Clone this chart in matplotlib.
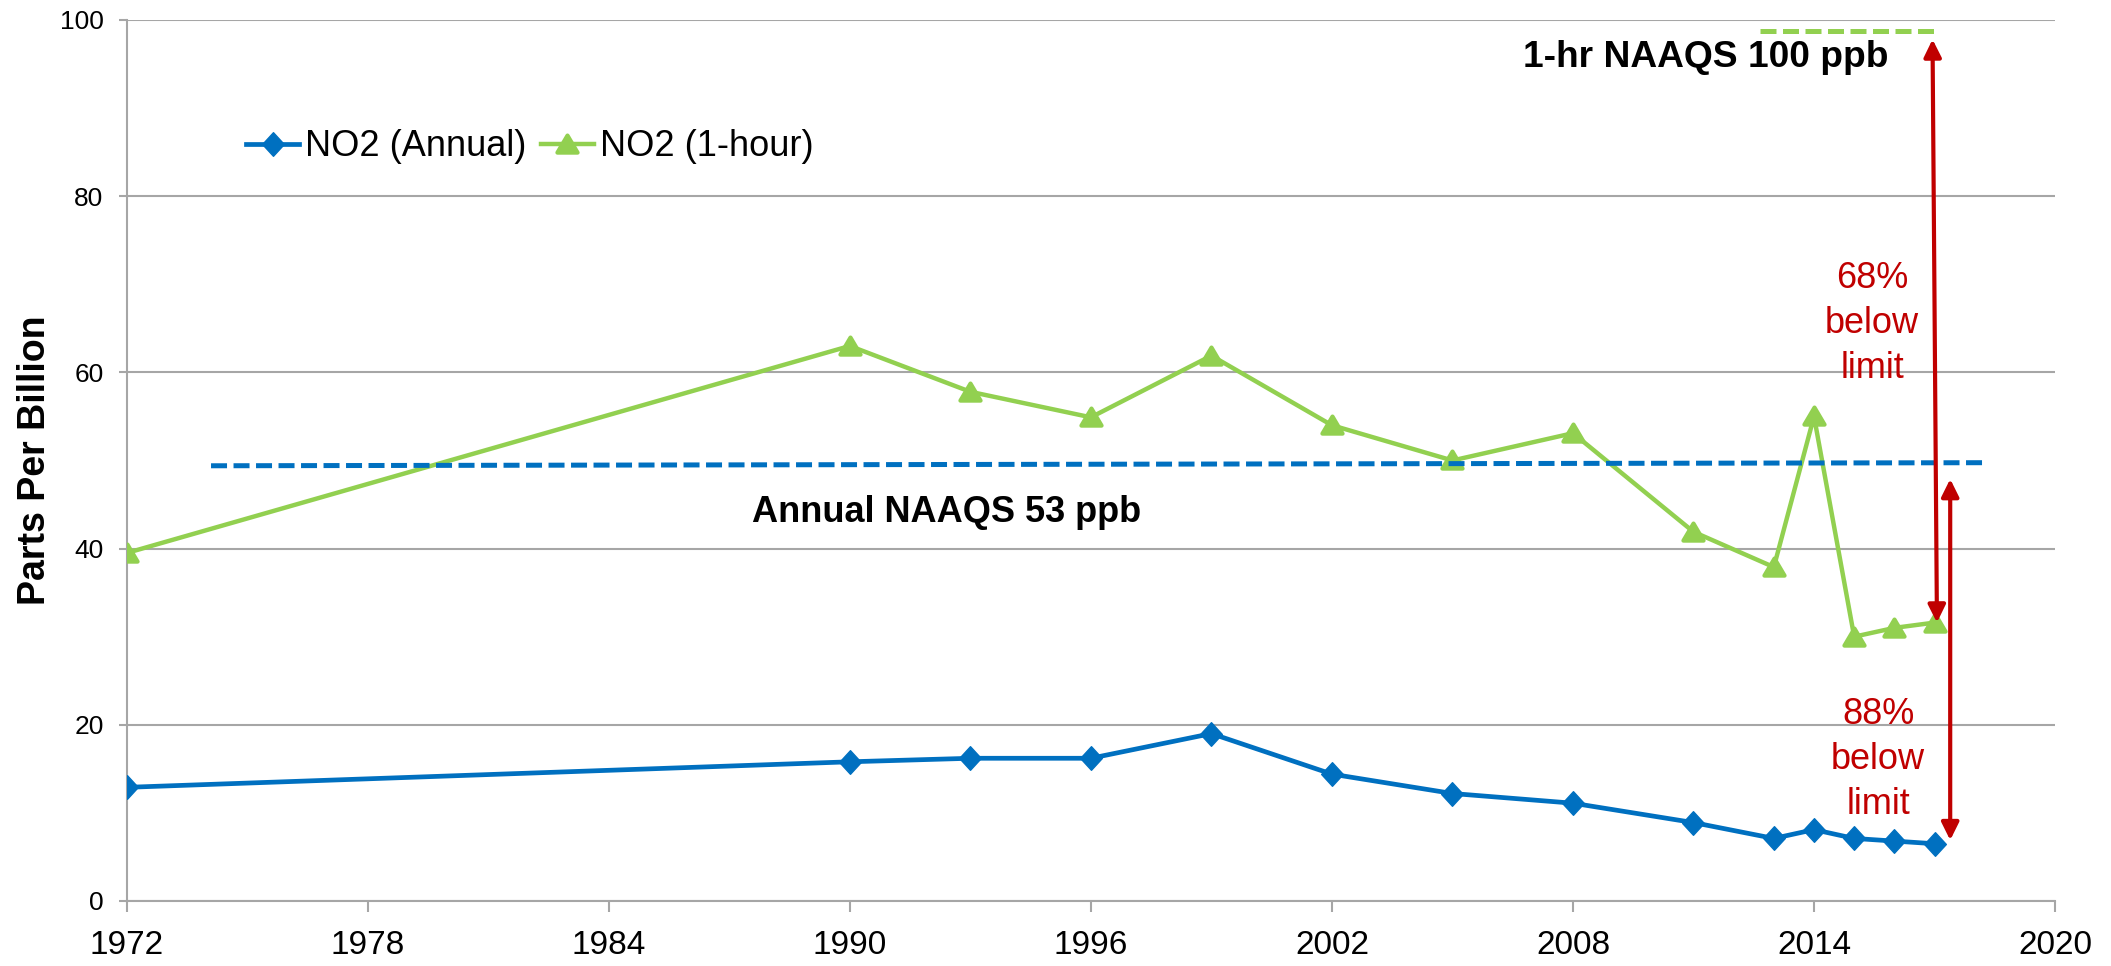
import matplotlib
matplotlib.use("Agg")
import matplotlib.pyplot as plt
from matplotlib.path import Path
from matplotlib.markers import MarkerStyle
from matplotlib.patches import FancyArrowPatch, ArrowStyle
from matplotlib.lines import Line2D

plt.rcParams['font.family'] = ['Liberation Sans', 'DejaVu Sans']

# ---- data ----
years_annual = [1972, 1990, 1993, 1996, 1999, 2002, 2005, 2008, 2011, 2013, 2014, 2015, 2016, 2017]
no2_annual = [12.9, 15.8, 16.2, 16.2, 19.0, 14.4, 12.2, 11.1, 8.9, 7.1, 8.1, 7.1, 6.8, 6.5]

years_hour = [1972, 1990, 1993, 1996, 1999, 2002, 2005, 2008, 2011, 2013, 2014, 2015, 2016, 2017]
no2_hour = [39.5, 63.0, 57.8, 54.9, 61.9, 54.0, 50.0, 53.1, 41.9, 37.9, 55.0, 30.0, 31.0, 31.6]

x_ticks = [1972, 1978, 1984, 1990, 1996, 2002, 2008, 2014, 2020]
y_ticks = [0, 20, 40, 60, 80, 100]
series_labels = ['NO2 (Annual)', 'NO2 (1-hour)']

BLUE = '#0070C0'
GREEN = '#92D050'
RED = '#C00000'
GRID = '#A6A6A6'

fig = plt.figure(figsize=(21.11, 9.66), dpi=100)
ax = fig.add_axes([0.0600, 0.0673, 0.9135, 0.9120])
ax.set_xlim(1972, 2020)
ax.set_ylim(0, 100)

# grid / spines
ax.set_yticks(y_ticks)
ax.set_xticks(x_ticks)
ax.yaxis.grid(True, color=GRID, lw=1.5)
ax.set_axisbelow(True)
for s in ['top', 'right']:
    ax.spines[s].set_visible(False)
for s in ['left', 'bottom']:
    ax.spines[s].set_color(GRID)
    ax.spines[s].set_linewidth(1.5)
ax.tick_params(axis='x', direction='out', length=8, width=1.5, color=GRID,
               labelsize=24, pad=13)
ax.tick_params(axis='y', direction='out', length=5.8, width=1.5, color=GRID,
               labelsize=19, pad=10.8)

# markers
diamond = Path([(0, 1), (0.92, 0), (0, -1), (-0.92, 0), (0, 1)],
               [Path.MOVETO, Path.LINETO, Path.LINETO, Path.LINETO, Path.CLOSEPOLY])
tri = Path([(-0.62, -0.5), (0.62, -0.5), (0, 0.55), (-0.62, -0.5)],
           [Path.MOVETO, Path.LINETO, Path.LINETO, Path.CLOSEPOLY])
m_d = MarkerStyle(diamond, joinstyle='round')
m_t = MarkerStyle(tri, joinstyle='round')

ax.plot(years_hour, no2_hour, color=GREEN, lw=3.2, marker=m_t, markersize=14.5,
        mfc=GREEN, mec=GREEN, mew=3, zorder=3, label=series_labels[1])
ax.plot(years_annual, no2_annual, color=BLUE, lw=3.4, marker=m_d, markersize=17,
        mfc=BLUE, mec=BLUE, mew=1, zorder=4, label=series_labels[0])

# standards lines
ax.plot([1974.1, 2018.26], [49.4, 49.75], color=BLUE, lw=3.6,
        linestyle=(0, (3.2, 1.3)), dash_capstyle='butt', zorder=5)
ax.plot([2012.66, 2017.12], [98.8, 98.8], color=GREEN, lw=3.6,
        linestyle=(0, (3.2, 1.3)), dash_capstyle='butt', zorder=5)

ax.text(1992.4, 43.05, 'Annual NAAQS 53 ppb', ha='center', va='baseline',
        fontsize=26, fontweight='bold', color='black', zorder=6)
ax.text(2011.3, 94.7, '1-hr NAAQS 100 ppb', ha='center', va='baseline',
        fontsize=26.7, fontweight='bold', color='black', zorder=6)

# arrows
style = ArrowStyle('<|-|>', head_length=10.5, head_width=5.2)
for (x0, y0, x1, y1) in [(2016.95, 97.8, 2017.06, 31.6), (2017.39, 47.9, 2017.39, 6.9)]:
    arr = FancyArrowPatch((x0, y0), (x1, y1), arrowstyle=style, mutation_scale=1,
                          color=RED, lw=3, shrinkA=0, shrinkB=0, zorder=7)
    ax.add_patch(arr)

ax.text(2015.45, 72.6, '68%\nbelow\nlimit', ha='center', va='top', multialignment='center',
        fontsize=26, color=RED, linespacing=1.37, zorder=6)
ax.text(2015.6, 23.1, '88%\nbelow\nlimit', ha='center', va='top', multialignment='center',
        fontsize=26, color=RED, linespacing=1.37, zorder=6)

ax.set_ylabel('Parts Per Billion', fontsize=27, fontweight='bold')
ax.yaxis.set_label_coords(-0.038, 0.5)

# legend
h_annual = Line2D([], [], color=BLUE, lw=3.4, marker=m_d, markersize=17, mfc=BLUE, mec=BLUE, mew=1)
h_hour = Line2D([], [], color=GREEN, lw=3.2, marker=m_t, markersize=14.5, mfc=GREEN, mec=GREEN, mew=3)
fig.legend([h_annual, h_hour], series_labels, loc='center left',
           bbox_to_anchor=(246 / 2111, 1 - 147 / 966), ncol=2, frameon=False,
           fontsize=26, handlelength=1.47, handletextpad=0.17, columnspacing=0.39,
           borderpad=0, borderaxespad=0)

fig.savefig('out.png', dpi=100)
